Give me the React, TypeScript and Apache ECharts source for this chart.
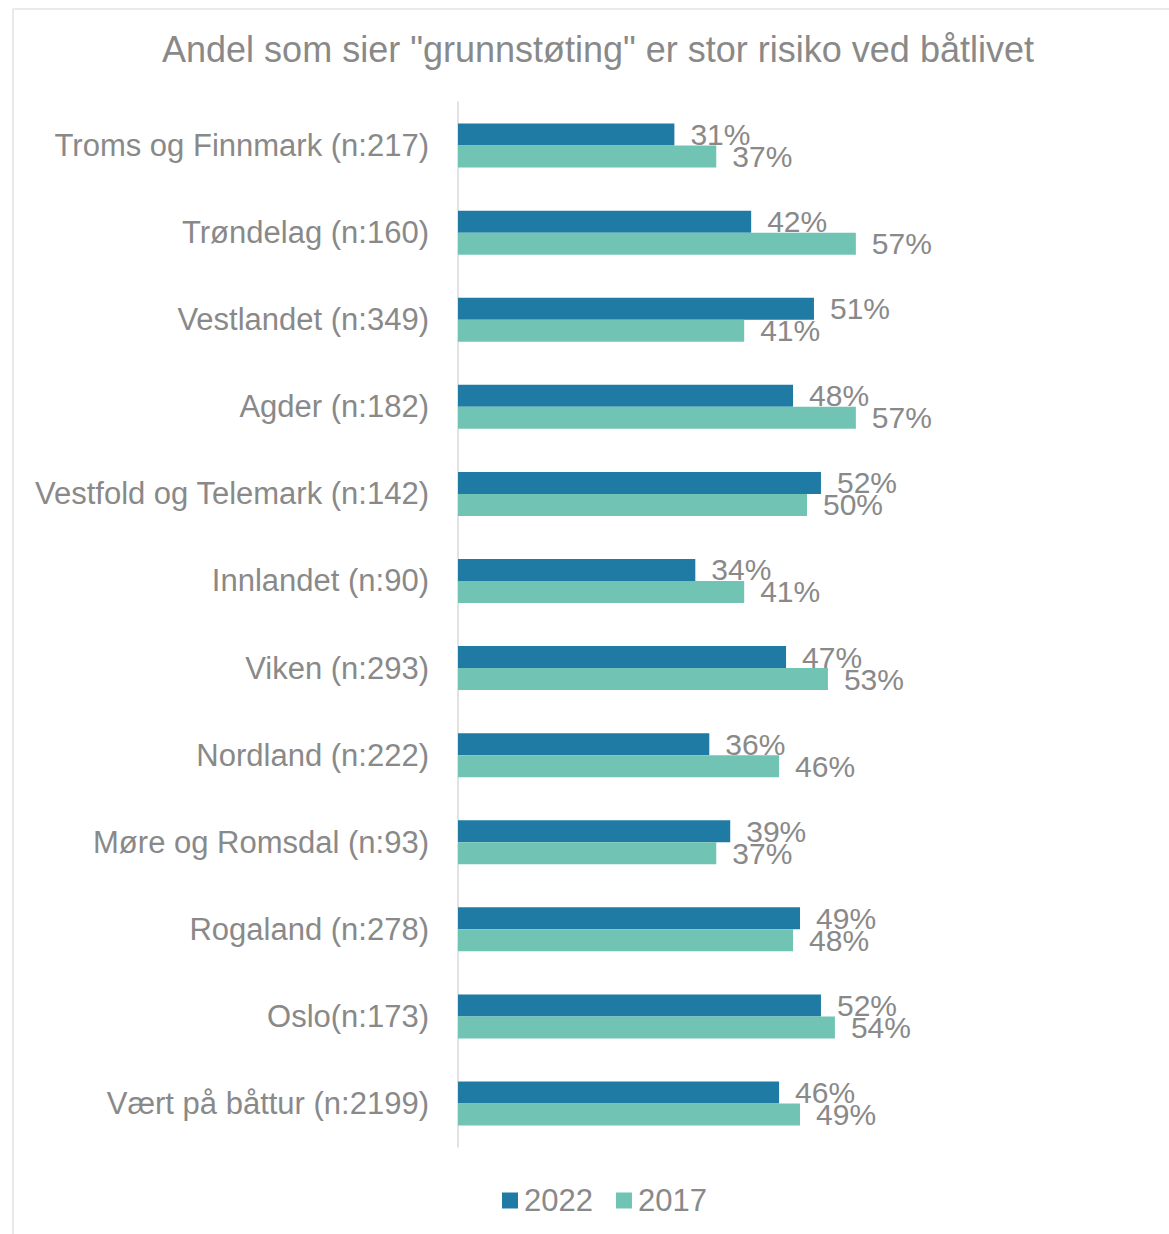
import React, { useEffect, useRef } from "react";
import * as echarts from "echarts";

const categories = [
  "Troms og Finnmark (n:217)",
  "Trøndelag (n:160)",
  "Vestlandet (n:349)",
  "Agder (n:182)",
  "Vestfold og Telemark (n:142)",
  "Innlandet (n:90)",
  "Viken (n:293)",
  "Nordland (n:222)",
  "Møre og Romsdal (n:93)",
  "Rogaland (n:278)",
  "Oslo(n:173)",
  "Vært på båttur (n:2199)",
];
const values2022 = [31, 42, 51, 48, 52, 34, 47, 36, 39, 49, 52, 46];
const values2017 = [37, 57, 41, 57, 50, 41, 53, 46, 37, 48, 54, 49];
const seriesNames = ["2022", "2017"];
const titleText = 'Andel som sier "grunnstøting" er stor risiko ved båtlivet';

const FONT = "'Liberation Sans', Arial, sans-serif";
const GRAY = "#898989";

export default function App() {
  const ref = useRef<HTMLDivElement>(null);
  useEffect(() => {
    if (!ref.current) return;
    const chart = echarts.init(ref.current, null, { renderer: "svg" });
    const labelCfg = {
      show: true,
      position: "right",
      distance: 16,
      formatter: "{c}%",
      color: GRAY,
      fontSize: 30,
      fontFamily: FONT,
    };
    chart.setOption({
      animation: false,
      backgroundColor: "#ffffff",
      title: {
        text: titleText,
        left: 598,
        textAlign: "center",
        top: 31,
        padding: 0,
        textStyle: { color: GRAY, fontSize: 36, fontWeight: "normal", fontFamily: FONT },
      },
      legend: {
        data: seriesNames,
        left: 502,
        top: 1185,
        padding: 0,
        itemWidth: 16,
        itemHeight: 16,
        itemGap: 23,
        icon: "rect",
        textStyle: { color: GRAY, fontSize: 31, fontFamily: FONT, padding: [0, 0, 0, 1] },
      },
      grid: { left: 458, width: 698, top: 102, height: 1045, containLabel: false },
      xAxis: {
        type: "value",
        min: 0,
        max: 100,
        show: false,
      },
      yAxis: {
        type: "category",
        data: categories,
        inverse: true,
        axisLine: { show: true, lineStyle: { color: "#d9d9d9", width: 1.5 } },
        axisTick: { show: false },
        axisLabel: { color: GRAY, fontSize: 31, fontFamily: FONT, margin: 29 },
        splitLine: { show: false },
      },
      graphic: [
        { type: "line", shape: { x1: 13, y1: 9, x2: 1169, y2: 9 }, style: { stroke: "#e3e3e3", lineWidth: 1.5 } },
        { type: "line", shape: { x1: 13, y1: 9, x2: 13, y2: 1234 }, style: { stroke: "#e3e3e3", lineWidth: 1.5 } },
      ],
      series: [
        {
          name: seriesNames[0],
          type: "bar",
          data: values2022,
          barWidth: 22,
          barGap: "0%",
          itemStyle: { color: "#1f7ba3" },
          label: labelCfg,
        },
        {
          name: seriesNames[1],
          type: "bar",
          data: values2017,
          barWidth: 22,
          barGap: "0%",
          itemStyle: { color: "#71c4b3" },
          label: labelCfg,
        },
      ],
    });
    return () => chart.dispose();
  }, []);
  return (
    <div
      ref={ref}
      style={{ position: "fixed", left: 0, top: 0, width: 1169, height: 1234 }}
    />
  );
}
